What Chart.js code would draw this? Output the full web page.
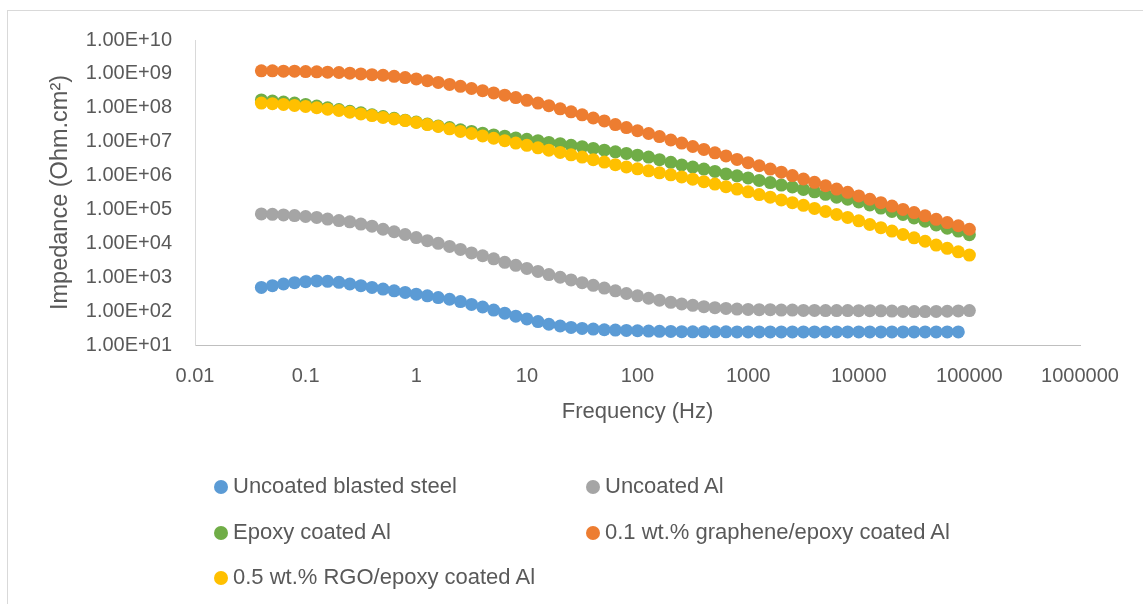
<!DOCTYPE html>
<html>
<head>
<meta charset="utf-8">
<script src="https://cdn.jsdelivr.net/npm/chart.js@4"></script>
<style>
  html, body { margin: 0; padding: 0; background: #fff; }
  #wrap { position: relative; width: 1143px; height: 604px; overflow: hidden; }
  #frame { position: absolute; left: 7px; top: 10px; width: 1150px; height: 610px; border: 1px solid #d9d9d9; }
  #chart { position: absolute; left: 0; top: 0; }
  .leg { position: absolute; font-family: "Liberation Sans", Arial, sans-serif; font-size: 22px; color: #595959; white-space: nowrap; line-height: 26px; }
  .leg i { display: inline-block; width: 14px; height: 14px; border-radius: 50%; margin-right: 5px; vertical-align: -1px; }
</style>
</head>
<body>
<div id="wrap">
  <div id="frame"></div>
  <canvas id="chart" width="1143" height="604"></canvas>
  <div id="legend"></div>
</div>
<script>
const freq = [0.0398, 0.0501, 0.0631, 0.0794, 0.1, 0.126, 0.158, 0.2, 0.251, 0.316, 0.398, 0.501, 0.631, 0.794,
    1, 1.26, 1.58, 2, 2.51, 3.16, 3.98, 5.01, 6.31, 7.94, 10, 12.6, 15.8, 20, 25.1, 31.6, 39.8, 50.1, 63.1, 79.4,
    100, 126, 158, 200, 251, 316, 398, 501, 631, 794, 1000, 1259, 1585, 1995, 2512, 3162, 3981, 5012, 6310, 7943,
    10000, 12589, 15849, 19953, 25119, 31623, 39811, 50119, 63096, 79433, 100000];

// |Z| in Ohm.cm2, one value per frequency (steel stops one point early)
const blastedSteel = [500, 562, 631, 692, 741, 776, 759, 708, 631, 562,
    501, 447, 398, 355, 316, 282, 251, 224, 191, 158,
    132, 107, 87, 71, 59, 49, 41, 36.3, 33.1, 30.9,
    29.5, 28.2, 27.5, 26.9, 26.3, 25.7, 25.4, 25.1, 24.8, 24.5,
    24.4, 24.4, 24.4, 24.3, 24.3, 24.3, 24.3, 24.3, 24.3, 24.3, 24.3, 24.3,
    24.3, 24.3, 24.3, 24.3, 24.3, 24.3, 24.3, 24.3, 24.3, 24.3, 24.3, 24.3];

const uncoatedAl = [7.4e4, 7.2e4, 6.9e4, 6.6e4, 6.2e4, 5.8e4, 5.2e4, 4.7e4, 4.3e4, 3.7e4, 3.2e4, 2.6e4, 2.2e4,
    1.82e4, 1.48e4, 1.2e4, 1.0e4, 8.1e3, 6.6e3, 5.2e3, 4.3e3, 3.5e3, 2.75e3, 2.24e3, 1.82e3, 1.48e3, 1.2e3,
    1.0e3, 832, 692, 575, 479, 398, 331, 282, 240, 209, 182, 162, 148, 135, 126, 120, 115, 112, 110,
    110, 107, 107, 105, 105, 104, 104, 104, 103, 103, 102, 100, 98, 97, 97, 98, 99, 101, 104];

const epoxyAl = [1.7e8, 1.58e8, 1.48e8, 1.38e8, 1.26e8, 1.12e8, 1.0e8, 8.9e7, 7.9e7, 7.1e7, 6.2e7, 5.5e7, 4.9e7,
    4.3e7, 3.8e7, 3.3e7, 2.9e7, 2.6e7, 2.24e7, 2.0e7, 1.78e7, 1.58e7, 1.45e7, 1.29e7, 1.17e7, 1.07e7, 9.5e6,
    8.7e6, 7.8e6, 7.1e6, 6.3e6, 5.6e6, 5.0e6, 4.5e6, 4.0e6, 3.5e6, 2.95e6, 2.45e6, 2.05e6, 1.78e6, 1.55e6,
    1.32e6, 1.12e6, 9.8e5, 8.5e5, 7.2e5, 6.2e5, 5.25e5, 4.6e5, 3.9e5, 3.3e5, 2.8e5, 2.3e5, 2.0e5, 1.66e5,
    1.35e5, 1.1e5, 8.7e4, 7.1e4, 5.6e4, 4.5e4, 3.5e4, 2.8e4, 2.3e4, 1.8e4];

const grapheneAl = [1.23e9, 1.23e9, 1.2e9, 1.2e9, 1.17e9, 1.15e9, 1.12e9, 1.1e9, 1.05e9, 1.0e9, 9.5e8, 9.1e8,
    8.5e8, 7.8e8, 7.1e8, 6.3e8, 5.6e8, 4.9e8, 4.3e8, 3.7e8, 3.2e8, 2.75e8, 2.35e8, 2.0e8, 1.66e8, 1.38e8,
    1.15e8, 9.3e7, 7.6e7, 6.2e7, 5.0e7, 4.1e7, 3.2e7, 2.6e7, 2.1e7, 1.74e7, 1.41e7, 1.12e7, 9.1e6, 7.2e6,
    5.9e6, 4.7e6, 3.8e6, 3.0e6, 2.4e6, 1.95e6, 1.55e6, 1.26e6, 1.0e6, 7.9e5, 6.3e5, 5.0e5, 4.0e5, 3.2e5,
    2.5e5, 2.0e5, 1.58e5, 1.26e5, 1.0e5, 8.1e4, 6.5e4, 5.1e4, 4.1e4, 3.3e4, 2.6e4];

const rgoAl = [1.38e8, 1.32e8, 1.26e8, 1.17e8, 1.1e8, 1.0e8, 9.1e7, 8.3e7, 7.4e7, 6.6e7, 5.9e7, 5.2e7, 4.7e7,
    4.2e7, 3.7e7, 3.2e7, 2.8e7, 2.4e7, 2.0e7, 1.74e7, 1.48e7, 1.26e7, 1.07e7, 9.1e6, 7.8e6, 6.6e6, 5.6e6,
    4.8e6, 4.1e6, 3.5e6, 2.95e6, 2.5e6, 2.1e6, 1.8e6, 1.58e6, 1.38e6, 1.2e6, 1.05e6, 9.1e5, 7.8e5, 6.6e5,
    5.6e5, 4.7e5, 4.0e5, 3.3e5, 2.75e5, 2.3e5, 1.9e5, 1.58e5, 1.32e5, 1.07e5, 8.7e4, 7.1e4, 5.8e4, 4.6e4,
    3.6e4, 2.9e4, 2.3e4, 1.82e4, 1.45e4, 1.15e4, 8.9e3, 7.1e3, 5.6e3, 4.5e3];

const seriesNames = ['Uncoated blasted steel', 'Uncoated Al', 'Epoxy coated Al',
    '0.1 wt.% graphene/epoxy coated Al', '0.5 wt.% RGO/epoxy coated Al'];
const seriesValues = [blastedSteel, uncoatedAl, epoxyAl, grapheneAl, rgoAl];
const seriesColors = ['#5b9bd5', '#a5a5a5', '#70ad47', '#ed7d31', '#ffc000'];

const xTicks = [0.01, 0.1, 1, 10, 100, 1000, 10000, 100000, 1000000];
const xTickLabels = ['0.01', '0.1', '1', '10', '100', '1000', '10000', '100000', '1000000'];
const yTicks = [1e1, 1e2, 1e3, 1e4, 1e5, 1e6, 1e7, 1e8, 1e9, 1e10];
const yTickLabels = ['1.00E+01', '1.00E+02', '1.00E+03', '1.00E+04', '1.00E+05',
    '1.00E+06', '1.00E+07', '1.00E+08', '1.00E+09', '1.00E+10'];

const font = '"Liberation Sans", Arial, sans-serif';
const textColor = '#595959';

const datasets = seriesNames.map((name, i) => ({
    label: name,
    data: seriesValues[i].map((v, j) => ({ x: freq[j], y: v })),
    backgroundColor: seriesColors[i],
    borderColor: seriesColors[i],
    borderWidth: 0,
    pointRadius: 6.5,
    pointHoverRadius: 6.5,
    showLine: false,
    order: seriesNames.length - i,
}));

new Chart(document.getElementById('chart'), {
    type: 'scatter',
    data: { datasets },
    options: {
        responsive: false,
        animation: false,
        events: [],
        layout: { padding: { left: 0, top: 40, right: 63, bottom: 179 } },
        plugins: { legend: { display: false }, tooltip: { enabled: false } },
        scales: {
            x: {
                type: 'logarithmic',
                min: 0.01,
                max: 1000000,
                afterBuildTicks: (axis) => { axis.ticks = xTicks.map((v) => ({ value: v })); },
                afterFit: (axis) => { axis.height = 80; },
                grid: { display: false, drawTicks: false },
                border: { display: true, color: '#bfbfbf', width: 1 },
                ticks: {
                    padding: 19,
                    color: textColor,
                    font: { family: font, size: 20 },
                    maxRotation: 0,
                    autoSkip: false,
                    callback: (v) => xTickLabels[xTicks.indexOf(v)] ?? '',
                },
                title: {
                    display: true,
                    text: 'Frequency (Hz)',
                    color: textColor,
                    font: { family: font, size: 22 },
                    padding: { top: 0, bottom: 0 },
                },
            },
            y: {
                type: 'logarithmic',
                min: 10,
                max: 1e10,
                afterBuildTicks: (axis) => { axis.ticks = yTicks.map((v) => ({ value: v })); },
                afterFit: (axis) => { axis.width = 195; },
                grid: { display: false, drawTicks: false },
                border: { display: true, color: '#d9d9d9', width: 1 },
                ticks: {
                    padding: 23,
                    color: textColor,
                    font: { family: font, size: 20 },
                    autoSkip: false,
                    callback: (v) => yTickLabels[yTicks.indexOf(v)] ?? '',
                },
                title: {
                    display: true,
                    text: 'Impedance (Ohm.cm²)',
                    color: textColor,
                    font: { family: font, size: 23.5 },
                    padding: { top: 46, bottom: 0 },
                },
            },
        },
    },
});

// legend: two columns, three rows
const legend = document.getElementById('legend');
seriesNames.forEach((name, i) => {
    const el = document.createElement('div');
    el.className = 'leg';
    el.style.left = (214 + (i % 2) * 372) + 'px';
    el.style.top = (473 + Math.floor(i / 2) * 45.5) + 'px';
    el.innerHTML = '<i style="background:' + seriesColors[i] + '"></i>' + name;
    legend.appendChild(el);
});
</script>
</body>
</html>
